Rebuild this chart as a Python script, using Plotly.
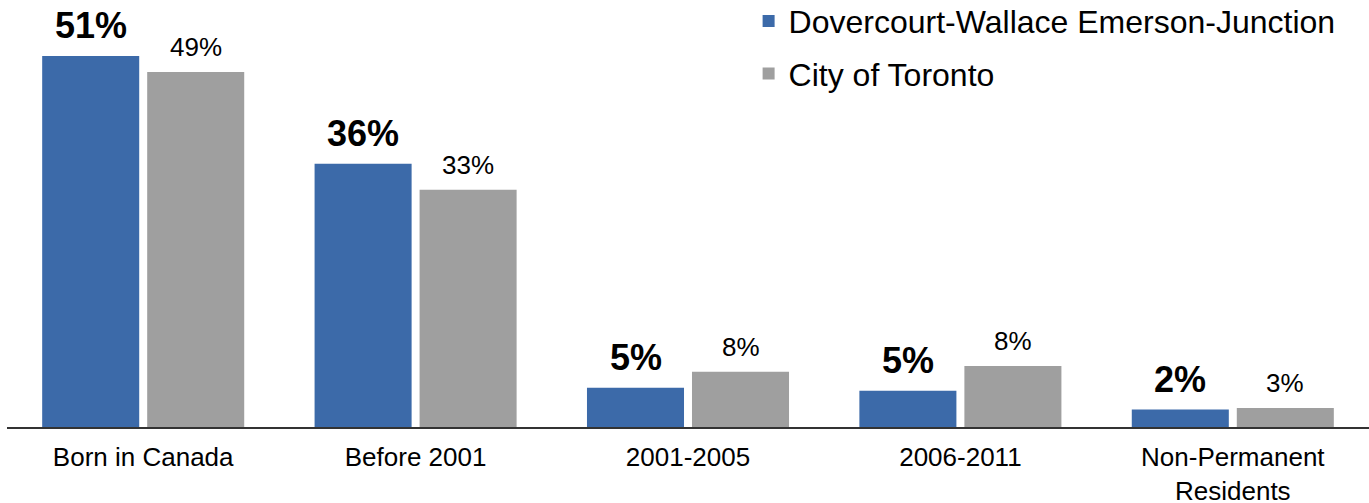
import plotly.graph_objects as go

categories = ["Born in Canada", "Before 2001", "2001-2005", "2006-2011", "Non-Permanent<br>Residents"]
series_names = ["Dovercourt-Wallace Emerson-Junction", "City of Toronto"]
dwej_values = [51.0, 36.2, 5.4, 5.0, 2.4]
toronto_values = [48.8, 32.6, 7.6, 8.4, 2.6]
dwej_labels = ["51%", "36%", "5%", "5%", "2%"]
toronto_labels = ["49%", "33%", "8%", "8%", "3%"]

BLUE = "#3c6aa9"
GRAY = "#9f9f9f"
FONT = "Liberation Sans, Arial, sans-serif"

fig = go.Figure()
fig.add_trace(go.Bar(name=series_names[0], x=categories, y=dwej_values, legendgroup="a",
                     marker=dict(color=BLUE, line=dict(width=0)), hoverinfo="skip"))
fig.add_trace(go.Bar(name=series_names[1], x=categories, y=toronto_values, legendgroup="b",
                     marker=dict(color=GRAY, line=dict(width=0)), hoverinfo="skip"))

group_offset = 52.5  # px from category centre to bar centre
for cat, v, lab in zip(categories, dwej_values, dwej_labels):
    fig.add_annotation(x=cat, y=v, xref="x", yref="y", text=lab, showarrow=False,
                       xshift=-group_offset, yshift=8, yanchor="bottom",
                       font=dict(family=FONT, size=36, color="#000000", weight="bold"))
for cat, v, lab in zip(categories, toronto_values, toronto_labels):
    fig.add_annotation(x=cat, y=v, xref="x", yref="y", text=lab, showarrow=False,
                       xshift=group_offset, yshift=8, yanchor="bottom",
                       font=dict(family=FONT, size=26, color="#000000"))

fig.update_layout(
    width=1369, height=503,
    margin=dict(l=7, r=0, t=0, b=76, autoexpand=False),
    paper_bgcolor="white", plot_bgcolor="white",
    barmode="group", bargap=0.229, bargroupgap=0.076,
    font=dict(family=FONT, color="#000000"),
    showlegend=True,
    legend=dict(x=0.5445, y=1.015, xanchor="left", yanchor="top",
                font=dict(family=FONT, size=32, color="#000000"),
                bgcolor="rgba(0,0,0,0)", borderwidth=0, traceorder="grouped",
                tracegroupgap=8),
    xaxis=dict(showline=True, linecolor="#333333", linewidth=2, showgrid=False,
               zeroline=False, ticks="", tickfont=dict(family=FONT, size=26, color="#000000"),
               ticklabelstandoff=6, automargin=False, fixedrange=True),
    yaxis=dict(visible=False, range=[0, 58.7], showgrid=False, zeroline=False,
               automargin=False, fixedrange=True),
)

fig.write_html("out.html", config={"displayModeBar": False},
               post_script="document.body.style.margin='0px';")
